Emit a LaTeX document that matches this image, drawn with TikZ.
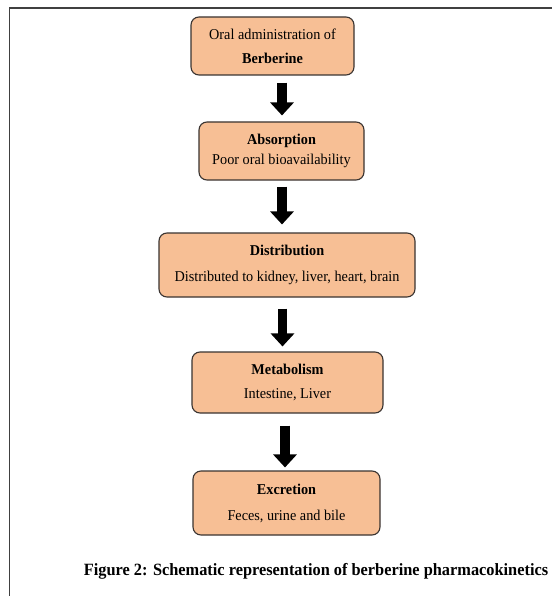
\documentclass[tikz,border=0pt]{standalone}
\usepackage{fontspec}
\setmainfont{Liberation Serif}[FakeStretch=0.95]
\usetikzlibrary{arrows.meta}
\definecolor{boxfill}{HTML}{F7BF95}
\definecolor{boxline}{HTML}{3A3431}
\tikzset{
  stagebox/.style={draw=boxline, line width=1.1pt, fill=boxfill, rounded corners=8pt,
    align=center, inner sep=2pt, font=\fontsize{15}{24}\selectfont},
  blockarr/.style={line width=9.5pt, black, -{Triangle[width=23pt,length=13pt]}},
}
\begin{document}
\begin{tikzpicture}[x=1pt,y=-1pt]
\useasboundingbox (0,0) rectangle (552,596);
\fill[white] (0,0) rectangle (552,596);
\draw[line width=1.6pt, black!75] (9.5,596) -- (9.5,8) -- (552,8);
\node[stagebox, minimum width=163pt, minimum height=58pt] (b1) at (272.5,46)
  {Oral administration of\\\textbf{Berberine}};
\node[stagebox, minimum width=165pt, minimum height=58pt, font=\fontsize{15}{19.5}\selectfont] (b2) at (281.5,151)
  {\textbf{Absorption}\\Poor oral bioavailability};
\node[stagebox, minimum width=256pt, minimum height=64pt, font=\fontsize{15}{26.5}\selectfont] (b3) at (287,265)
  {\textbf{Distribution}\\Distributed to kidney, liver, heart, brain};
\node[stagebox, minimum width=191pt, minimum height=61pt, font=\fontsize{15}{24}\selectfont] (b4) at (287.5,382.5)
  {\textbf{Metabolism}\\Intestine, Liver};
\node[stagebox, minimum width=187pt, minimum height=64pt, font=\fontsize{15}{26}\selectfont] (b5) at (286.5,503)
  {\textbf{Excretion}\\Feces, urine and bile};
\draw[blockarr, shorten <=7pt, shorten >=6pt] ([xshift=9.5pt]b1.south) -- ([xshift=0.5pt]b2.north);
\draw[blockarr, shorten <=6pt, shorten >=8pt] ([xshift=0.5pt]b2.south) -- ([xshift=-5pt]b3.north);
\draw[blockarr, shorten <=11pt, shorten >=5pt] ([xshift=-4.5pt]b3.south) -- ([xshift=-5pt]b4.north);
\draw[blockarr, shorten <=12pt, shorten >=3pt] ([xshift=-2.5pt]b4.south) -- ([xshift=-1.5pt]b5.north);
\node[font=\bfseries\fontsize{17.2}{20}\selectfont] (cap) at (316,571)
  {Figure 2: Schematic representation of berberine pharmacokinetics};
\end{tikzpicture}
\end{document}
